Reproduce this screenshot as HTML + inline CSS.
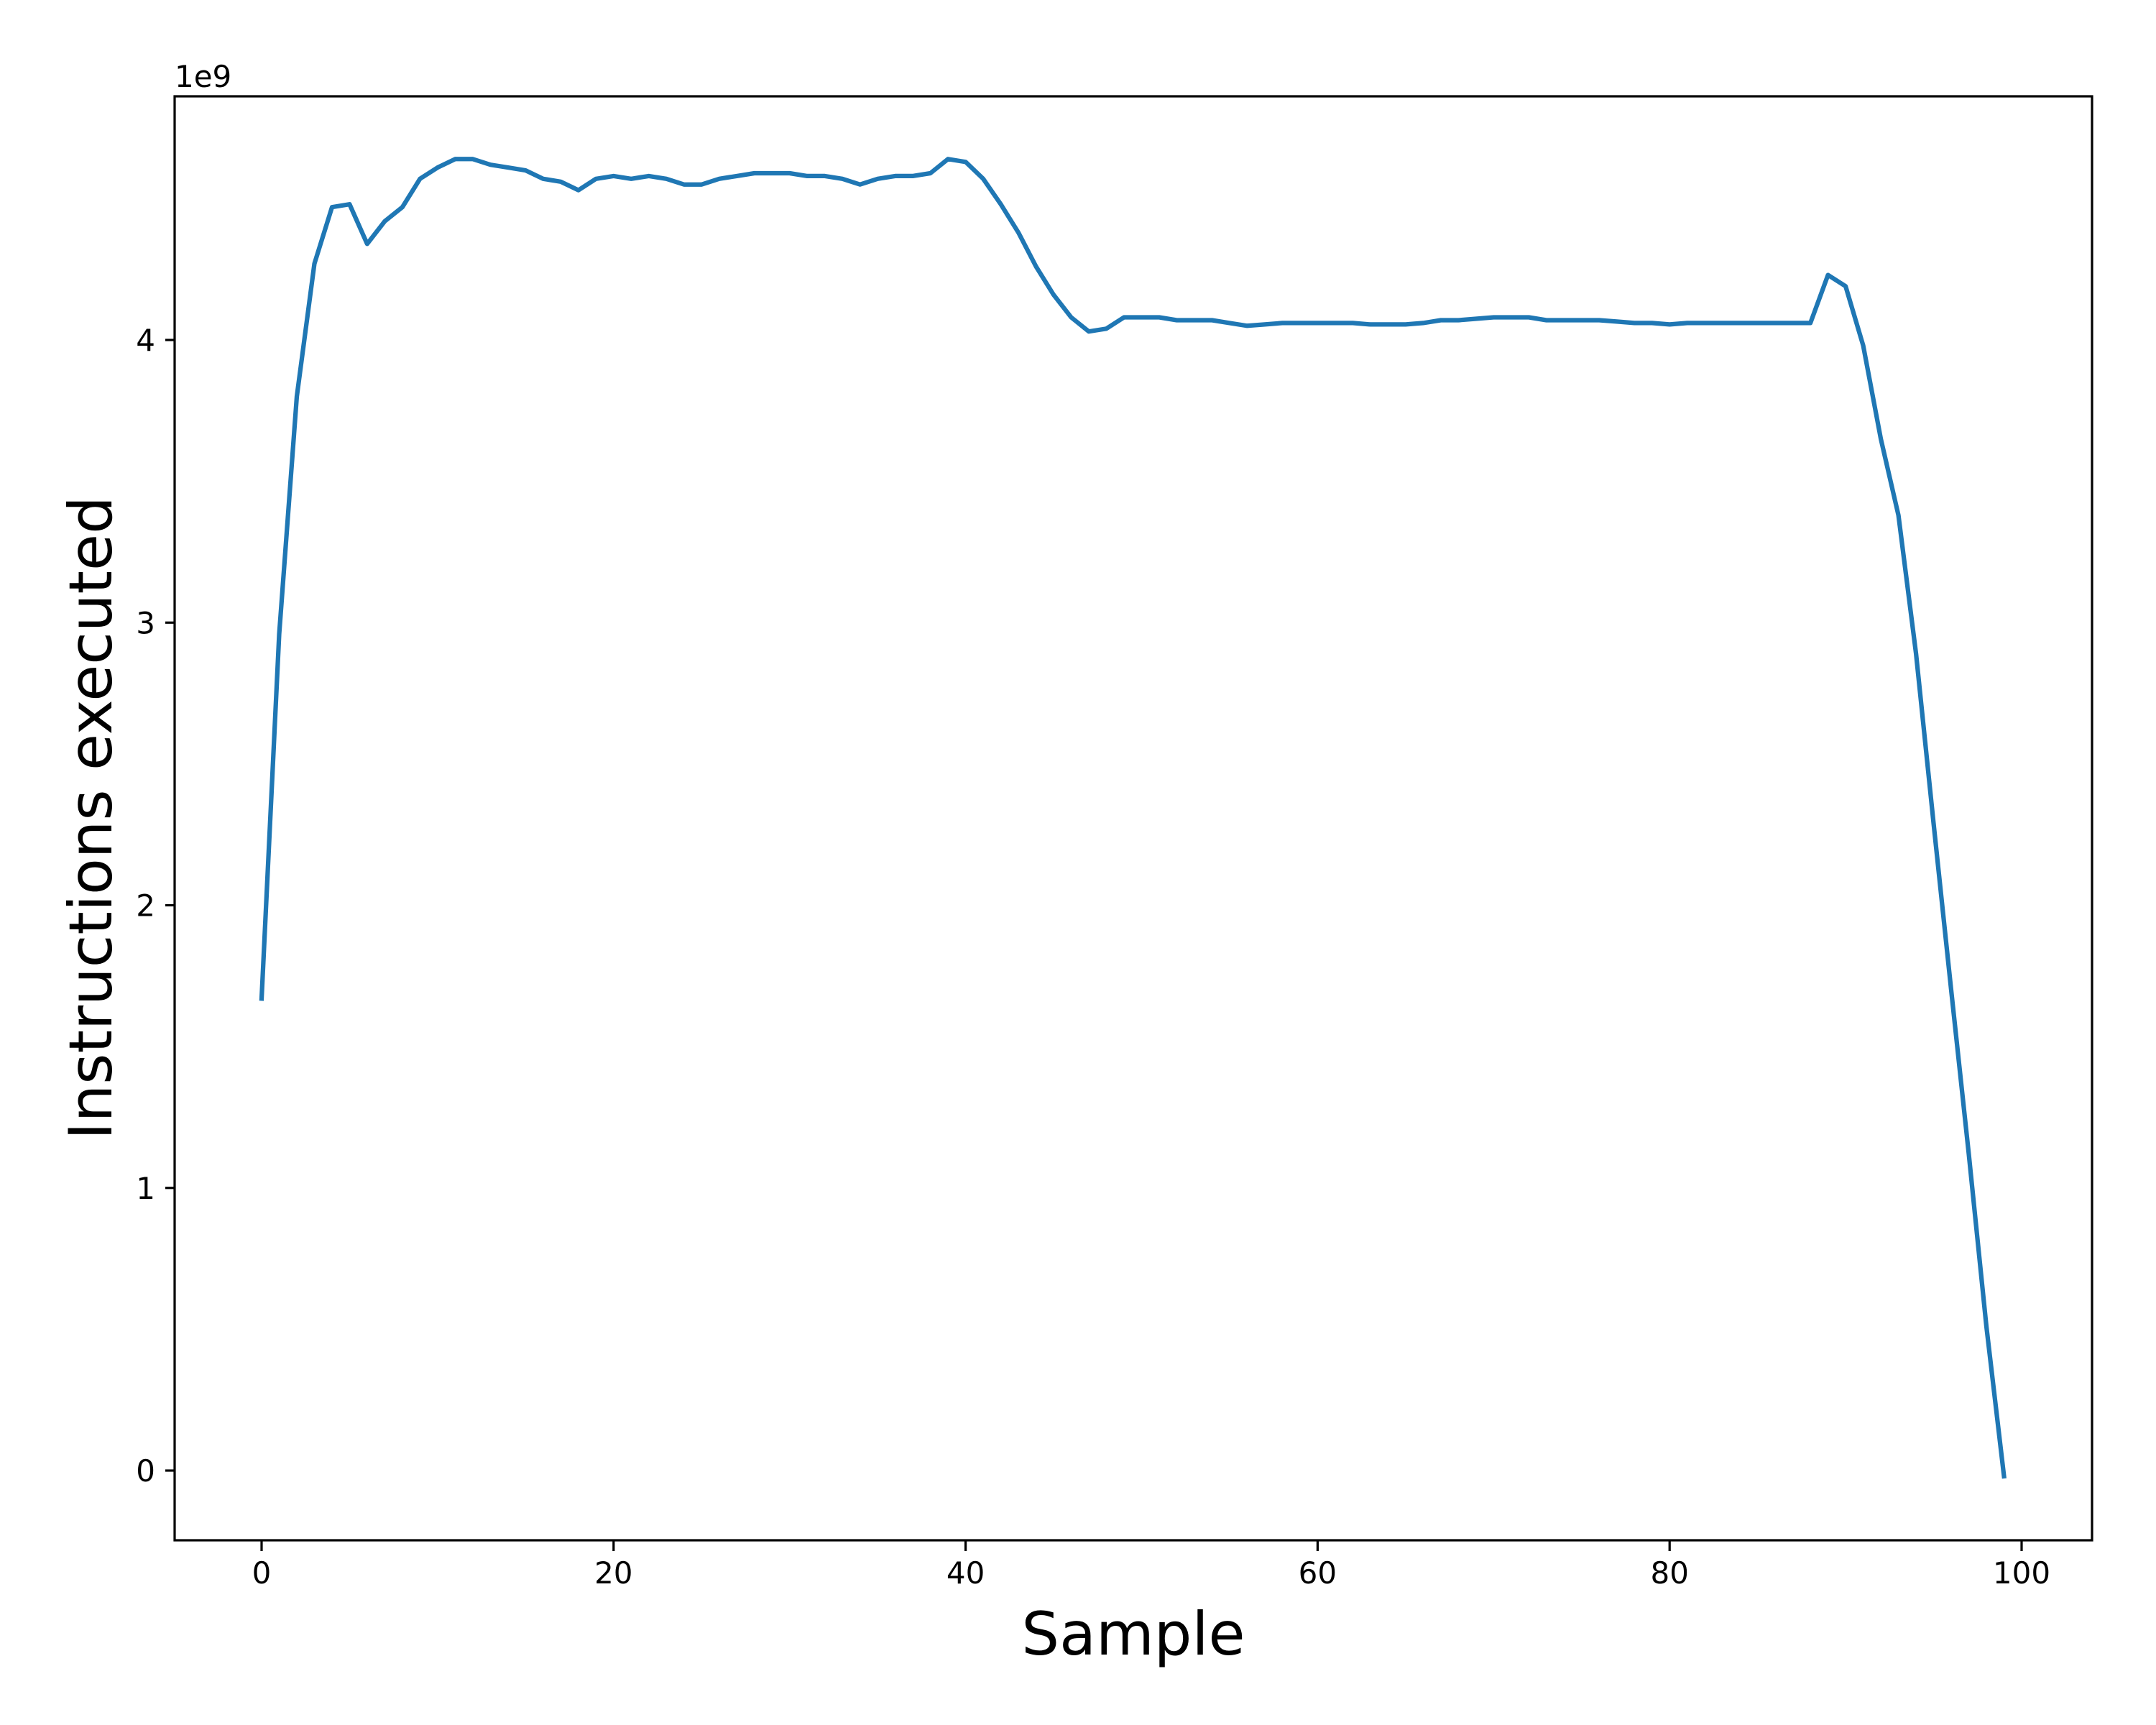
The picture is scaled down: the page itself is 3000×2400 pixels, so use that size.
<!DOCTYPE html>
<html><head><meta charset="utf-8"><style>
html,body{margin:0;padding:0;background:#fff;}
svg{display:block;font-family:"DejaVu Sans","Liberation Sans",sans-serif;}
</style></head><body>
<svg id="chart" width="3000" height="2400" viewBox="0 0 3000 2400" xmlns="http://www.w3.org/2000/svg">
<rect x="0" y="0" width="3000" height="2400" fill="#fff"/>
<g id="ticks"></g>
<path id="series" fill="none" stroke="#1f77b4" stroke-width="6.25" stroke-linejoin="round" stroke-linecap="square"/>
<rect x="243" y="134" width="2668" height="2009" fill="none" stroke="#000" stroke-width="3.2"/>
<text x="243" y="121" font-size="42">1e9</text>
<text x="1577" y="2302" font-size="83" text-anchor="middle">Sample</text>
<text transform="translate(155,1138) rotate(-90)" font-size="83" text-anchor="middle">Instructions executed</text>
</svg>
<script>
const values = [1.67,2.96,3.80,4.27,4.47,4.48,4.34,4.42,4.47,4.57,4.61,4.64,4.64,4.62,4.61,4.60,4.57,4.56,4.53,4.57,
4.58,4.57,4.58,4.57,4.55,4.55,4.57,4.58,4.59,4.59,4.59,4.58,4.58,4.57,4.55,4.57,4.58,4.58,4.59,4.64,
4.63,4.57,4.48,4.38,4.26,4.16,4.08,4.03,4.04,4.08,4.08,4.08,4.07,4.07,4.07,4.06,4.05,4.055,4.06,4.06,
4.06,4.06,4.06,4.055,4.055,4.055,4.06,4.07,4.07,4.075,4.08,4.08,4.08,4.07,4.07,4.07,4.07,4.065,4.06,4.06,
4.055,4.06,4.06,4.06,4.06,4.06,4.06,4.06,4.06,4.23,4.19,3.98,3.65,3.38,2.89,2.29,1.70,1.12,0.51,-0.02];
const xTicks = [0,20,40,60,80,100];
const yTicks = [0,1,2,3,4];

const NS = 'http://www.w3.org/2000/svg';
function xScale(v){ return 364 + v * 24.49; }
function yScale(v){ return 2046 - v * 393.25; }

let d = '';
values.forEach(function(v,i){ d += (i ? 'L' : 'M') + xScale(i).toFixed(1) + ',' + yScale(v).toFixed(1); });
document.getElementById('series').setAttribute('d', d);

const g = document.getElementById('ticks');
function mk(tag, attrs){ const e = document.createElementNS(NS, tag); for (const k in attrs) e.setAttribute(k, attrs[k]); g.appendChild(e); return e; }
xTicks.forEach(function(t){
  const x = xScale(t);
  const l = mk('line', {x1:x, x2:x, y1:2143, y2:2158, stroke:'#000', 'stroke-width':3.2});
  
  
  const tx = mk('text', {x:x, y:2203, 'font-size':42, 'text-anchor':'middle'});
  tx.textContent = t;
  
  
});
yTicks.forEach(function(t){
  const y = yScale(t);
  const l = mk('line', {x1:230, x2:243, y1:y, y2:y, stroke:'#000', 'stroke-width':3.2});
  
  
  const tx = mk('text', {x:216, y:y + 15, 'font-size':42, 'text-anchor':'end'});
  tx.textContent = t;
  
  
});
</script>
</body></html>
